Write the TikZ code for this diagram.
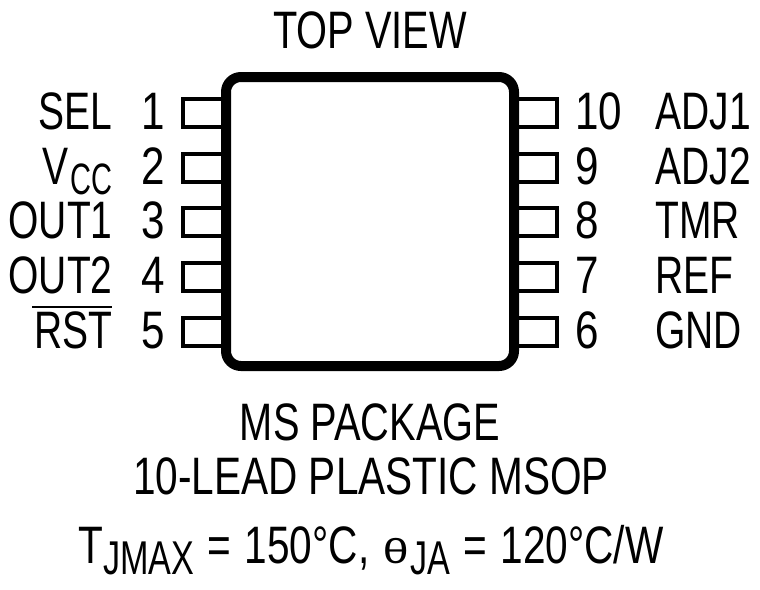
\documentclass[tikz,border=0pt]{standalone}
\usepackage{fontspec}
\setmainfont[FakeStretch=0.77]{Liberation Sans}
\newfontfamily\thetafont{Liberation Sans}
\newfontfamily\headfont[FakeStretch=0.755]{Liberation Sans}
\newfontfamily\namefont[FakeStretch=0.74]{Liberation Sans}
\newfontfamily\numfont[FakeStretch=0.8]{Liberation Sans}
\newfontfamily\vsubfont[FakeStretch=0.66]{Liberation Sans}
\newfontfamily\tsubfont[FakeStretch=0.72]{Liberation Sans}
\usepackage{tikz}
\usetikzlibrary{positioning,calc}
\newcommand{\vsub}[1]{\raisebox{-5.7pt}[0pt][0pt]{\vsubfont\fontsize{25}{25}\selectfont #1}}
\newcommand{\tsub}[1]{\raisebox{-6.3pt}[0pt][0pt]{\tsubfont\fontsize{27}{27}\selectfont #1}}
\tikzset{
	lbl/.style={inner sep=0pt, font=\fontsize{30}{30}\selectfont},
	head/.style={lbl, font=\headfont\fontsize{30}{30}\selectfont},
	pinname/.style={lbl, font=\namefont\fontsize{30}{30}\selectfont},
	pinnum/.style={lbl, font=\numfont\fontsize{30}{30}\selectfont},
	pin/.style={line width=1.8pt},
}
\begin{document}
\begin{tikzpicture}[x=0.02cm,y=-0.02cm]
	\useasboundingbox (0,0) rectangle (760,589);
	\draw[line width=0.2cm, rounded corners=0.3cm] (226,77) rectangle (514,366);
	% pins
	\foreach \y/\n/\m/\l/\r in {113/1/10/SEL/ADJ1, 168/2/9/{V\kern1.5pt\vsub{CC}}/ADJ2, 222/3/8/OUT1/TMR, 277/4/7/OUT2/REF, 332/5/6/RST/GND}{
		\draw[pin] (222,\y-14) -- (183,\y-14) -- (183,\y+14) -- (222,\y+14);
		\draw[pin] (518,\y-14) -- (557,\y-14) -- (557,\y+14) -- (518,\y+14);
		\node[pinnum, anchor=base east] (numl\n) at (165,\y+16) {\n};
		\node[pinname, anchor=base east] (namel\n) at (113,\y+16) {\l};
		\node[pinnum, anchor=base west] (numr\m) at (575,\y+16) {\m};
		\node[pinname, anchor=base west] (namer\m) at (655,\y+16) {\r};
	}
	\draw[line width=1.3pt] ($(namel5.north west)+(-2,-4)$) -- ($(namel5.north east)+(-1,-4)$);
	\node[head, anchor=base] (top) at (370,48) {TOP VIEW};
	\node[head, anchor=base] (pkg) at (370,440) {MS PACKAGE};
	\node[lbl, anchor=base] (lead) at (371,494) {10-LEAD PLASTIC MSOP};
	\node[lbl, anchor=base] (temp) at (371,563) {\spaceskip=7.6pt T\tsub{JMAX} = 150°C, \scalebox{0.8}[0.6]{\thetafont\fontsize{33}{33}\selectfont θ}\kern1pt\tsub{JA} = 120°C/W};
\end{tikzpicture}
\end{document}
